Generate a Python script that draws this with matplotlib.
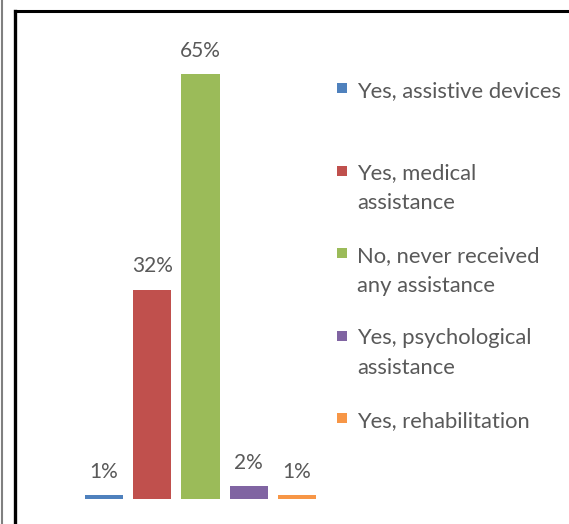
import matplotlib
matplotlib.use("Agg")
import matplotlib.pyplot as plt
from matplotlib.lines import Line2D
from matplotlib.patches import Rectangle

categories = ["Yes, assistive devices", "Yes, medical\nassistance",
              "No, never received\nany assistance", "Yes, psychological\nassistance",
              "Yes, rehabilitation"]
values = [0.6, 32, 65, 2, 0.6]
labels = ["1%", "32%", "65%", "2%", "1%"]
colors = ["#4F81BD", "#C0504D", "#9BBB59", "#8064A2", "#F79646"]

plt.rcParams['font.family'] = ['Lato', 'DejaVu Sans']
text_col = "#595959"

W, H = 569, 524
fig = plt.figure(figsize=(W / 100, H / 100), dpi=100)
ax = fig.add_axes([75 / W, 25 / H, 251 / W, 457.5 / H])

x = range(len(values))
bars = ax.bar(x, values, width=0.79, color=colors)
for b, lab in zip(bars, labels):
    ax.annotate(lab, (b.get_x() + b.get_width() / 2, b.get_height()),
                xytext=(0, 12.5), textcoords="offset points",
                ha="center", va="baseline", fontsize=15, color=text_col)

ax.set_xlim(-0.6, 4.6)
ax.set_ylim(0, 70)
ax.axis("off")

# legend drawn by hand, Excel style
for i, (cat, c) in enumerate(zip(categories, colors)):
    top = 90 + 82.5 * i
    fig.add_artist(Rectangle((337 / W, 1 - (top + 3) / H), 10 / W, 10 / H,
                             transform=fig.transFigure, color=c, lw=0))
    for k, line in enumerate(cat.split("\n")):
        base = top + 7 + 29.5 * k
        fig.text(357 / W, 1 - base / H, line, ha="left", va="baseline",
                 fontsize=15.8, color=text_col)

# frame lines
fig.add_artist(Line2D([14.5 / W, 1], [1 - 11 / H, 1 - 11 / H], color="black", lw=2.2,
                      transform=fig.transFigure))
fig.add_artist(Line2D([14.5 / W, 14.5 / W], [0, 1 - 11 / H], color="black", lw=2.4,
                      transform=fig.transFigure))
fig.add_artist(Line2D([1.5 / W, 1.5 / W], [0, 1], color="#808080", lw=1.5,
                      transform=fig.transFigure))

fig.savefig("out.png", dpi=100)
